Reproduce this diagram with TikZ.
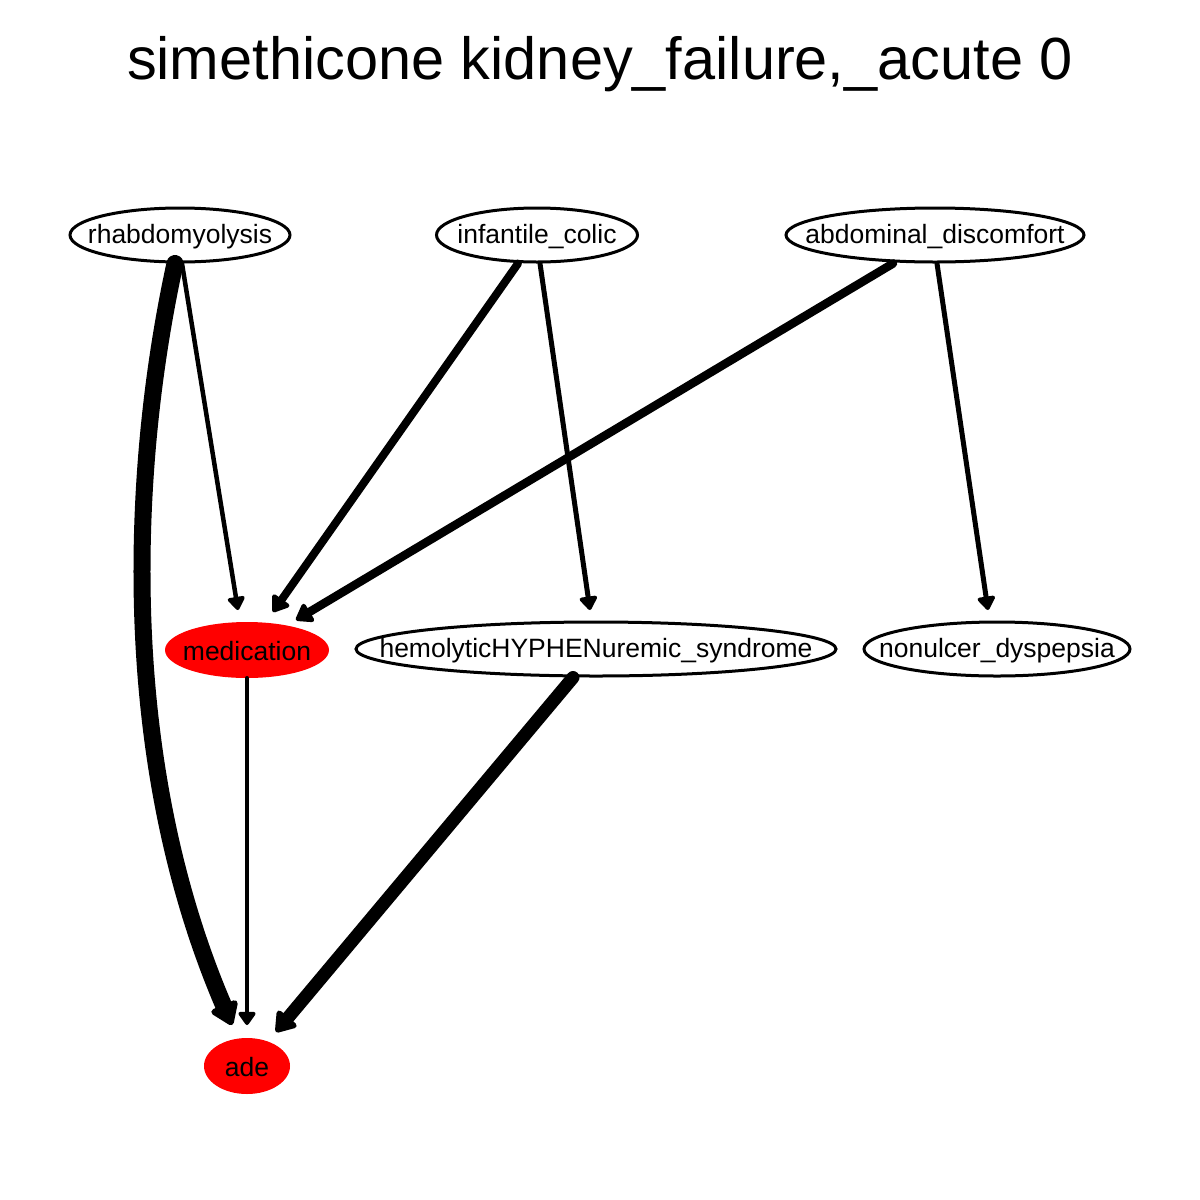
\documentclass[tikz,border=0pt]{standalone}
\usepackage{fontspec}
\setmainfont{Liberation Sans}
\usetikzlibrary{shapes.geometric,arrows.meta}
\begin{document}
\begin{tikzpicture}[x=1pt,y=-1pt,
  nd/.style={ellipse,draw=black,line width=3pt,minimum height=54pt,inner sep=0pt,
    label={[font=\fontsize{26.5}{26.5}\selectfont,yshift=-2pt]center:#1}},
  rd/.style={ellipse,fill=red,draw=none,minimum height=56pt,inner sep=0pt,
    label={[font=\fontsize{26.5}{26.5}\selectfont,yshift=-1pt]center:#1}},
  ed/.style={draw=black,line cap=round,-{Triangle[length=11pt 0.8,width=15pt 1,round]}}]
\useasboundingbox (0,0) rectangle (1200,1200);
\node[font=\fontsize{59.5}{59.5}\selectfont] (title) at (600,64) {simethicone kidney\_failure,\_acute 0};
\node[nd={rhabdomyolysis},minimum width=220pt] (rh) at (180,235) {};
\node[nd={infantile\_colic},minimum width=201pt] (ic) at (537,235) {};
\node[nd={abdominal\_discomfort},minimum width=298pt] (ab) at (935,235) {};
\node[rd={medication},minimum width=164pt] (me) at (247,650) {};
\node[nd={hemolyticHYPHENuremic\_syndrome},minimum width=480pt] (he) at (596,649) {};
\node[nd={nonulcer\_dyspepsia},minimum width=266pt] (no) at (997,649) {};
\node[rd={ade},minimum width=86pt] (ade) at (247,1066) {};
\coordinate (rh0) at ([xshift=-5pt]rh.south);
\coordinate (rh1) at ([xshift=2pt]rh.south);
\coordinate (ic0) at ([xshift=-19pt]ic.south);
\coordinate (ic1) at ([xshift=3pt]ic.south);
\coordinate (ab0) at ([xshift=-42pt]ab.south);
\coordinate (ab1) at ([xshift=2pt]ab.south);
\coordinate (he0) at ([xshift=-23pt]he.south);
\coordinate (meA) at (238,610);
\coordinate (meB) at (273,612);
\coordinate (meC) at (296,620);
\coordinate (heT) at (590,610);
\coordinate (noT) at (988,610);
\coordinate (adeA) at (232,1025);
\coordinate (adeB) at (247,1025);
\coordinate (adeC) at (276,1032);
\draw[ed,line width=17pt] (rh0) .. controls (130,470) and (118,760) .. (adeA);
\draw[ed,line width=4.5pt] (rh1) -- (meA);
\draw[ed,line width=8pt] (ic0) -- (meB);
\draw[ed,line width=5pt] (ic1) -- (heT);
\draw[ed,line width=8.5pt] (ab0) -- (meC);
\draw[ed,line width=5pt] (ab1) -- (noT);
\draw[ed,line width=4.5pt] (me.south) -- (adeB);
\draw[ed,line width=13pt] (he0) -- (adeC);
\end{tikzpicture}
\end{document}
